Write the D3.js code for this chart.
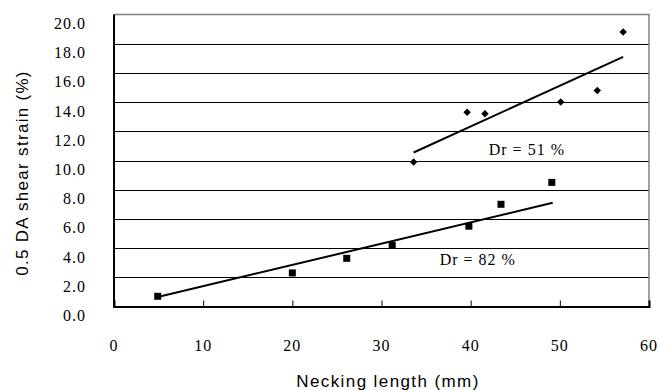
<!DOCTYPE html>
<html>
<head>
<meta charset="utf-8">
<script src="https://cdn.jsdelivr.net/npm/d3@7"></script>
<style>
  body { margin: 0; background: #fff; }
  svg { display: block; }
</style>
</head>
<body>
<div id="chart"></div>
<script>
// Dr = 82 % (squares)
const dense_x = [4.9, 20.0, 26.1, 31.2, 39.8, 43.4, 49.1];
const dense_y = [0.7, 2.3, 3.3, 4.2, 5.5, 7.0, 8.5];
// Dr = 51 % (diamonds)
const loose_x = [33.6, 39.6, 41.6, 50.1, 54.2, 57.1];
const loose_y = [9.9, 13.3, 13.2, 14.0, 14.8, 18.8];
// trend lines, end points
const trend82_x = [4.9, 49.2];
const trend82_y = [0.65, 7.1];
const trend51_x = [33.6, 57.1];
const trend51_y = [10.55, 17.1];

const xTicks = [0, 10, 20, 30, 40, 50, 60];
const yTicks = [0, 2, 4, 6, 8, 10, 12, 14, 16, 18, 20];
const labels = [
    {text: "Dr = 51 %", x: 46.3, y: 10.75},
    {text: "Dr = 82 %", x: 40.8, y: 3.25},
];

const width = 658;
const height = 390;
const pl = 114;
const pr = 649;
const pt = 14.5;
const pb = 306.5;

const xScale = d3.scaleLinear().domain([0, 60]).range([pl, pr]);
const yScale = d3.scaleLinear().domain([0, 20]).range([pb, pt]);

const svg = d3.select("#chart").append("svg")
    .attr("width", width)
    .attr("height", height);

// gridlines
svg.append("g")
    .selectAll("line")
    .data(yTicks.filter(d => d > 0 && d < 20))
    .enter()
    .append("line")
    .attr("x1", pl)
    .attr("x2", pr)
    .attr("y1", d => Math.round(yScale(d)) + 0.5)
    .attr("y2", d => Math.round(yScale(d)) + 0.5)
    .attr("stroke", "#000")
    .attr("stroke-width", 1);

// top and right border
svg.append("path")
    .attr("d", `M${pl},${pt}H${pr}V${pb}`)
    .attr("fill", "none")
    .attr("stroke", "#808080")
    .attr("stroke-width", 1.5);

// x axis, ticks point inward
const xAxis = svg.append("g")
    .attr("transform", `translate(0,${pb})`)
    .call(d3.axisBottom(xScale).tickValues(xTicks).tickSize(-6).tickFormat(""));
xAxis.select(".domain").attr("stroke", "#000").attr("stroke-width", 2);
xAxis.selectAll(".tick line").attr("stroke", "#000");

svg.append("line")
    .attr("x1", pl).attr("x2", pl)
    .attr("y1", pt).attr("y2", pb + 1)
    .attr("stroke", "#000")
    .attr("stroke-width", 2);

// tick labels (sit below their gridline, as in the original)
svg.append("g")
    .selectAll("text")
    .data(yTicks)
    .enter()
    .append("text")
    .attr("x", 86)
    .attr("y", d => yScale(d) + 14.5)
    .attr("text-anchor", "end")
    .style("font-family", "'Liberation Serif', 'Times New Roman', serif")
    .style("font-size", "16px")
    .style("letter-spacing", "1px")
    .text(d => d3.format(".1f")(d));

svg.append("g")
    .selectAll("text")
    .data(xTicks)
    .enter()
    .append("text")
    .attr("x", d => xScale(d))
    .attr("y", 350.5)
    .attr("text-anchor", "middle")
    .style("font-family", "'Liberation Serif', 'Times New Roman', serif")
    .style("font-size", "16px")
    .style("letter-spacing", "1px")
    .text(d => d);

// axis titles
svg.append("text")
    .attr("x", 388)
    .attr("y", 387)
    .attr("text-anchor", "middle")
    .style("font-family", "'Liberation Sans', Arial, sans-serif")
    .style("font-size", "17px")
    .style("letter-spacing", "1.4px")
    .text("Necking length (mm)");

svg.append("text")
    .attr("transform", "translate(28,173) rotate(-90)")
    .attr("text-anchor", "middle")
    .style("font-family", "'Liberation Sans', Arial, sans-serif")
    .style("font-size", "17px")
    .style("letter-spacing", "1.3px")
    .text("0.5 DA shear strain (%)");

// trend lines
const line = d3.line().x(d => xScale(d[0])).y(d => yScale(d[1]));
[[trend82_x, trend82_y], [trend51_x, trend51_y]].forEach(([xs, ys]) => {
    svg.append("path")
        .attr("d", line(d3.zip(xs, ys)))
        .attr("fill", "none")
        .attr("stroke", "#000")
        .attr("stroke-width", 2);
});

// markers
svg.append("g")
    .selectAll("path")
    .data(d3.zip(dense_x, dense_y))
    .enter()
    .append("path")
    .attr("d", d3.symbol(d3.symbolSquare, 49))
    .attr("transform", d => `translate(${xScale(d[0])},${yScale(d[1])})`)
    .attr("fill", "#000");

svg.append("g")
    .selectAll("path")
    .data(d3.zip(loose_x, loose_y))
    .enter()
    .append("path")
    .attr("d", d3.symbol(d3.symbolSquare, 28))
    .attr("transform", d => `translate(${xScale(d[0])},${yScale(d[1])}) rotate(45)`)
    .attr("fill", "#000");

// series labels
svg.append("g")
    .selectAll("text")
    .data(labels)
    .enter()
    .append("text")
    .attr("x", d => xScale(d.x))
    .attr("y", d => yScale(d.y) + 5.5)
    .attr("text-anchor", "middle")
    .style("font-family", "'Liberation Serif', 'Times New Roman', serif")
    .style("font-size", "16px")
    .style("letter-spacing", "1px")
    .text(d => d.text);
</script>
</body>
</html>
